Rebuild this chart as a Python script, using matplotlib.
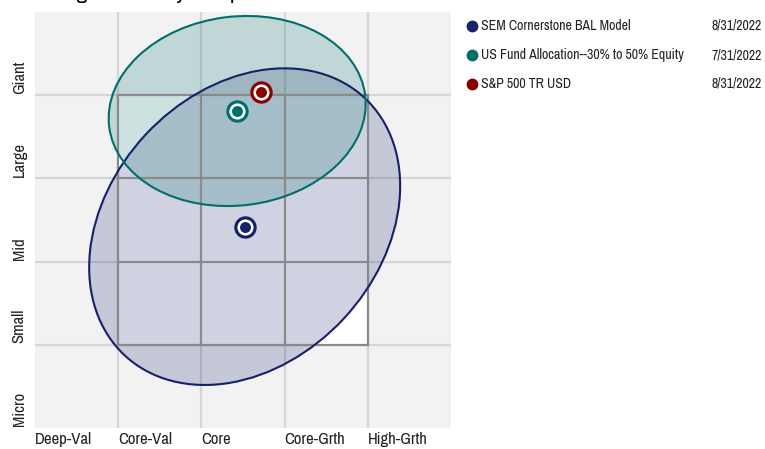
import matplotlib
matplotlib.use('Agg')
import matplotlib.pyplot as plt
from matplotlib.patches import Ellipse, Rectangle
from matplotlib.lines import Line2D

plt.rcParams['font.family'] = ['Archivo Narrow', 'DejaVu Sans']

# data (style box units: 0..5 across, 0..5 up)
size_labels = ['Micro', 'Small', 'Mid', 'Large', 'Giant']
style_labels = ['Deep-Val', 'Core-Val', 'Core', 'Core-Grth', 'High-Grth']
names = ['SEM Cornerstone BAL Model', 'US Fund Allocation--30% to 50% Equity', 'S&P 500 TR USD']
dates = ['8/31/2022', '7/31/2022', '8/31/2022']
colors = ['#15216a', '#006e6c', '#8a0000']
style_x = [2.52, 2.43, 2.72]
size_y = [2.42, 3.81, 4.04]
# ownership zones: width, height, angle (None = no zone)
zone_w = [4.23, 3.10, None]
zone_h = [3.25, 2.27, None]
zone_ang = [47, 7, None]

W, H = 765, 449
fig = plt.figure(figsize=(W / 100, H / 100), dpi=100)
ax = fig.add_axes([35 / W, 21 / H, 416 / W, 416 / H])
ax.set_xlim(0, 5)
ax.set_ylim(0, 5)
ax.set_facecolor('#f2f2f2')
for s in ax.spines.values():
    s.set_visible(False)
ax.set_xticks([])
ax.set_yticks([])

# outer light grid
for v in range(1, 5):
    ax.axvline(v, color='#d6d6d6', lw=1.6, zorder=1)
    ax.axhline(v, color='#d6d6d6', lw=1.6, zorder=1)

# inner 3x3 style box
ax.add_patch(Rectangle((1, 1), 3, 3, facecolor='white', edgecolor='none', zorder=1.5))

# zones
for i in range(len(names)):
    if zone_w[i] is None:
        continue
    ax.add_patch(Ellipse((style_x[i], size_y[i]), zone_w[i], zone_h[i], angle=zone_ang[i],
                         facecolor=colors[i], alpha=0.2, edgecolor='none', zorder=2))
    ax.add_patch(Ellipse((style_x[i], size_y[i]), zone_w[i], zone_h[i], angle=zone_ang[i],
                         facecolor='none', edgecolor=colors[i], lw=1.5, zorder=4))

# box lines on top of fills
for v in range(1, 5):
    ax.plot([v, v], [1, 4], color='#8a8a8a', lw=1.6, zorder=3)
    ax.plot([1, 4], [v, v], color='#8a8a8a', lw=1.6, zorder=3)

# centroids
for i in range(len(names)):
    ax.scatter(style_x[i], size_y[i], s=260, color=colors[i], zorder=5, linewidths=0)
    ax.scatter(style_x[i], size_y[i], s=135, color='white', zorder=6, linewidths=0)
    ax.scatter(style_x[i], size_y[i], s=62, color=colors[i], zorder=7, linewidths=0)

# axis labels
for i, lab in enumerate(style_labels):
    ax.text(i, -0.05, lab, ha='left', va='top', fontsize=12, color='#222222', clip_on=False)
for i, lab in enumerate(size_labels):
    ax.text(-0.19, i + 0.02, lab, ha='center', va='bottom', rotation=90,
            fontsize=12, color='#222222', clip_on=False)

# title, cut off at the top edge (only descenders show)
fig.text(24 / W, 1 + 1 / H, 'Holdings-Based Style Map', ha='left', va='baseline',
         fontsize=16, fontweight='bold', color='black')

# legend
for i in range(len(names)):
    y = 1 - (26 + 29 * i) / H
    fig.add_artist(Line2D([472 / W], [y], marker='o', markersize=7.5, color=colors[i], lw=0))
    fig.text(481 / W, y, names[i], ha='left', va='center', fontsize=10, color='#222222')
    fig.text(712 / W, y, dates[i], ha='left', va='center', fontsize=10, color='#222222')

fig.savefig('out.png', dpi=100)
